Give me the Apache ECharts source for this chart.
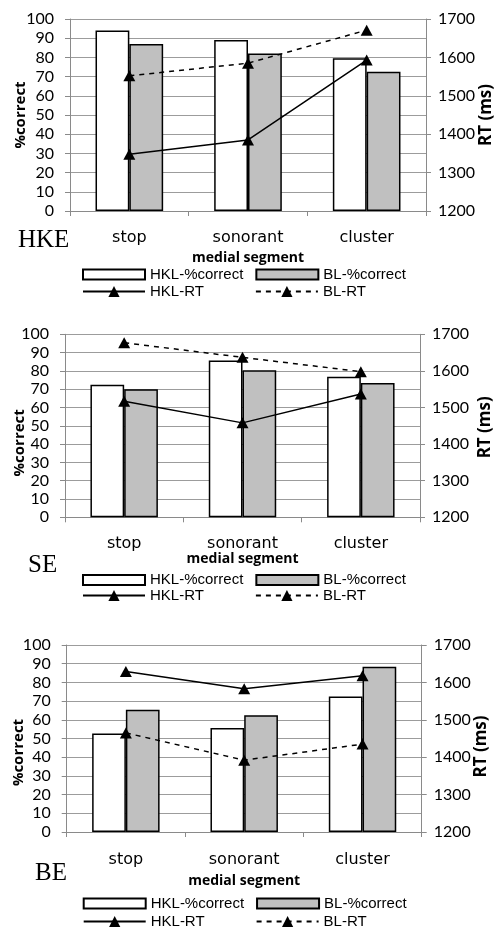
<!DOCTYPE html>
<html><head><meta charset="utf-8">
<script src="https://cdn.jsdelivr.net/npm/echarts@6/dist/echarts.min.js"></script>
<style>html,body{margin:0;padding:0;background:#fff}#c{width:495px;height:929px}</style>
</head><body><div id="c"></div>
<script>
// ---- data ----
const categories = ['stop', 'sonorant', 'cluster'];
const panelLabels = ['HKE', 'SE', 'BE'];
const seriesNames = ['HKL-%correct', 'BL-%correct', 'HKL-RT', 'BL-RT'];
const xAxisName = 'medial segment';
const leftAxisName = '%correct';
const rightAxisName = 'RT (ms)';
const leftAxisRange = [0, 100, 10];
const rightAxisRange = [1200, 1700, 100];

const hkeHklCorrect = [94, 89, 79.5];
const hkeBlCorrect = [87, 82, 72.5];
const hkeHklRT = [1348, 1385, 1593];
const hkeBlRT = [1552, 1585, 1671];

const seHklCorrect = [72.4, 85.7, 76.8];
const seBlCorrect = [70, 80.4, 73.4];
const seHklRT = [1517, 1458, 1537];
const seBlRT = [1677, 1637, 1598];

const beHklCorrect = [52.7, 55.6, 72.5];
const beBlCorrect = [65.4, 62.5, 88.4];
const beHklRT = [1629, 1583, 1618];
const beBlRT = [1465, 1392, 1435];

const panelData = [
  [hkeHklCorrect, hkeBlCorrect, hkeHklRT, hkeBlRT],
  [seHklCorrect, seBlCorrect, seHklRT, seBlRT],
  [beHklCorrect, beBlCorrect, beHklRT, beBlRT]
];

// ---- layout ----
const layouts = [
  {grid: {left: 70, top: 19, width: 356, height: 192}, titleLeft: 18, titleTop: 228,
   catMargin: 19, xNameGap: 40, lNameGap: 42, lNamePad: 0, rNameGap: 52, rNamePad: 0,
   legendLeft: 82, legendTop: [267, 284]},
  {grid: {left: 65, top: 334.3, width: 355, height: 183}, titleLeft: 28, titleTop: 553,
   catMargin: 19, xNameGap: 35, lNameGap: 38, lNamePad: 34, rNameGap: 57, rNamePad: 3,
   legendLeft: 82, legendTop: [572.5, 588]},
  {grid: {left: 66.7, top: 645, width: 355, height: 187}, titleLeft: 35, titleTop: 861,
   catMargin: 20, xNameGap: 42, lNameGap: 40, lNamePad: 28, rNameGap: 51, rNamePad: 16,
   legendLeft: 82.7, legendTop: [896, 914]}
];

const axisGray = '#8a8a8a';
const gridGray = '#9c9c9c';
const numFont = 'Lato';

const option = {
  animation: false,
  backgroundColor: '#fff',
  title: [], grid: [], xAxis: [], yAxis: [], legend: [], series: []
};

layouts.forEach((L, i) => {
  option.title.push({
    text: panelLabels[i], left: L.titleLeft, top: L.titleTop, padding: 0,
    textStyle: {fontFamily: 'Liberation Serif', fontWeight: 'normal', fontSize: 25, color: '#000'}
  });
  option.grid.push(Object.assign({containLabel: false, outerBoundsMode: 'none'}, L.grid));
  option.xAxis.push({
    type: 'category', gridIndex: i, data: categories,
    name: xAxisName, nameLocation: 'middle', nameGap: L.xNameGap, nameMoveOverlap: false,
    nameTextStyle: {fontFamily: 'Open Sans', fontWeight: 'bold', fontSize: 14, color: '#000'},
    axisLine: {lineStyle: {color: axisGray, width: 1}},
    axisTick: {show: true, alignWithLabel: false, length: 5, lineStyle: {color: axisGray}},
    axisLabel: {margin: L.catMargin, fontFamily: 'DejaVu Sans', fontSize: 16, color: '#000'},
    splitLine: {show: false}
  });
  option.yAxis.push({
    type: 'value', gridIndex: i, position: 'left',
    min: leftAxisRange[0], max: leftAxisRange[1], interval: leftAxisRange[2],
    name: leftAxisName, nameLocation: 'middle', nameGap: L.lNameGap, nameMoveOverlap: false,
    nameTextStyle: {fontFamily: 'Open Sans', fontWeight: 'bold', fontSize: 15, color: '#000', padding: [0, L.lNamePad, 0, 0]},
    axisLine: {show: true, lineStyle: {color: axisGray, width: 1}},
    axisTick: {show: true, length: 5, lineStyle: {color: axisGray}},
    axisLabel: {margin: 16, fontFamily: numFont, fontSize: 16, color: '#000', formatter: v => String(v)},
    splitLine: {show: true, lineStyle: {color: gridGray, width: 1}}
  });
  option.yAxis.push({
    type: 'value', gridIndex: i, position: 'right',
    min: rightAxisRange[0], max: rightAxisRange[1], interval: rightAxisRange[2],
    name: rightAxisName, nameLocation: 'middle', nameGap: L.rNameGap, nameRotate: 90, nameMoveOverlap: false,
    nameTextStyle: {fontFamily: 'Open Sans', fontWeight: 'bold', fontSize: 17, color: '#000', padding: [0, L.rNamePad, 0, 0]},
    axisLine: {show: true, lineStyle: {color: axisGray, width: 1}},
    axisTick: {show: true, length: 5, lineStyle: {color: axisGray}},
    axisLabel: {margin: 12, fontFamily: numFont, fontSize: 16, color: '#000', formatter: v => String(v)},
    splitLine: {show: false}
  });
  const legendText = {fontFamily: 'Liberation Sans', fontSize: 15, color: '#000'};
  option.legend.push({
    left: L.legendLeft, top: L.legendTop[0], padding: 0, itemWidth: 62, itemHeight: 10, itemGap: 12,
    textStyle: legendText, selectedMode: false,
    data: [{name: seriesNames[0], icon: 'rect'}, {name: seriesNames[1], icon: 'rect'}]
  });
  option.legend.push({
    left: L.legendLeft, top: L.legendTop[1], padding: 0, itemWidth: 62, itemHeight: 14, itemGap: 51,
    textStyle: legendText, selectedMode: false,
    data: [seriesNames[2], seriesNames[3]]
  });
  const d = panelData[i];
  const barBase = {type: 'bar', xAxisIndex: i, yAxisIndex: 2 * i, barGap: 0, barCategoryGap: '43%'};
  option.series.push(Object.assign({}, barBase, {
    name: seriesNames[0], data: d[0],
    itemStyle: {color: '#ffffff', borderColor: '#000', borderWidth: 1.5}
  }));
  option.series.push(Object.assign({}, barBase, {
    name: seriesNames[1], data: d[1],
    itemStyle: {color: '#c0c0c0', borderColor: '#000', borderWidth: 1.5}
  }));
  option.series.push({
    type: 'line', name: seriesNames[2], xAxisIndex: i, yAxisIndex: 2 * i + 1, data: d[2],
    symbol: 'triangle', symbolSize: [12, 11], z: 5,
    lineStyle: {color: '#000', width: 1.5, type: 'solid'},
    itemStyle: {color: '#000'}
  });
  option.series.push({
    type: 'line', name: seriesNames[3], xAxisIndex: i, yAxisIndex: 2 * i + 1, data: d[3],
    symbol: 'triangle', symbolSize: [12, 11], z: 5,
    lineStyle: {color: '#000', width: 1.5, type: [5, 5]},
    itemStyle: {color: '#000'}
  });
});

const chart = echarts.init(document.getElementById('c'), null, {renderer: 'canvas'});
chart.setOption(option);
</script>
</body></html>
